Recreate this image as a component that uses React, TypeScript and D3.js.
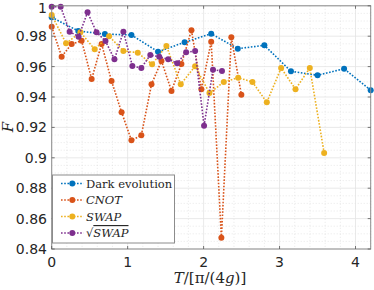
import React from 'react'
import * as d3 from 'd3'

// values
const darkT = [0, 0.35, 0.7, 1.05, 1.4, 1.75, 2.1, 2.45, 2.8, 3.15, 3.5, 3.85, 4.2]
const darkF = [0.9924, 0.9834, 0.9814, 0.9808, 0.9698, 0.976, 0.9816, 0.9718, 0.974, 0.9569, 0.9543, 0.9586, 0.9444]

const cnotT = [0, 0.131, 0.263, 0.394, 0.526, 0.657, 0.788, 0.92, 1.05, 1.18, 1.314, 1.445, 1.577, 1.708, 1.84, 1.971, 2.1, 2.234, 2.365, 2.497]
const cnotF = [0.9862, 0.9665, 0.9749, 0.977, 0.9518, 0.9749, 0.9505, 0.93, 0.9115, 0.9148, 0.9484, 0.9637, 0.944, 0.9617, 0.9839, 0.9451, 0.9764, 0.8474, 0.9793, 0.9415]

const swapT = [0, 0.189, 0.378, 0.566, 0.755, 0.944, 1.133, 1.322, 1.51, 1.699, 1.888, 2.077, 2.266, 2.455, 2.643, 2.832, 3.021, 3.21, 3.398, 3.587]
const swapF = [0.994, 0.9753, 0.9826, 0.9714, 0.98, 0.9703, 0.9691, 0.9615, 0.9736, 0.9484, 0.9602, 0.9426, 0.9499, 0.9527, 0.9499, 0.9365, 0.9591, 0.9451, 0.9591, 0.9032]

const sqrtT = [0, 0.118, 0.236, 0.354, 0.472, 0.59, 0.708, 0.826, 0.944, 1.062, 1.18, 1.298, 1.416, 1.534, 1.652, 1.77, 1.888, 2.006, 2.124, 2.242]
const sqrtF = [0.9994, 0.9994, 0.983, 0.9797, 0.9957, 0.9826, 0.9768, 0.9648, 0.983, 0.9604, 0.9591, 0.9676, 0.9665, 0.9648, 0.9622, 0.9694, 0.9703, 0.9211, 0.958, 0.9571]

const xTicks = [0, 1, 2, 3, 4]
const yTicks = [0.84, 0.86, 0.88, 0.9, 0.92, 0.94, 0.96, 0.98, 1]

const series = [
  { name: 'Dark evolution', t: darkT, f: darkF, color: '#0072BD' },
  { name: 'CNOT', t: cnotT, f: cnotF, color: '#D95319' },
  { name: 'SWAP', t: swapT, f: swapF, color: '#EDB120' },
  { name: 'sqrtSWAP', t: sqrtT, f: sqrtF, color: '#7E2F8E' },
]

const W = 374, H = 290
const left = 51.7, right = 370.7, top = 5.8, bottom = 249

export default function App() {
  const x = d3.scaleLinear().domain([0, 4.2]).range([left, right])
  const y = d3.scaleLinear().domain([0.84, 1]).range([bottom, top])
  const line = d3.line<[number, number]>().x(d => x(d[0])).y(d => y(d[1]))

  const minorX = d3.range(0, 4.21, 0.2).filter(v => Math.abs(v - Math.round(v)) > 0.01)
  const minorY = d3.range(0.84, 1.0001, 0.005).filter(v => Math.abs(v * 50 - Math.round(v * 50)) > 0.01)
  const fmt = (v: number) => String(+v.toFixed(2))

  const lx = 52.5, ly = 175, lw = 122, lh = 68
  const rows = [183.5, 200, 216.5, 233]

  return (
    <svg width={W} height={H} style={{ position: 'absolute', left: 0, top: 0, background: '#fff' }}>
      {/* minor grid */}
      <g stroke="#d9d9d9" strokeWidth={0.6} strokeDasharray="1,2">
        {minorX.map((v, i) => <line key={'mx' + i} x1={x(v)} x2={x(v)} y1={top} y2={bottom} />)}
        {minorY.map((v, i) => <line key={'my' + i} x1={left} x2={right} y1={y(v)} y2={y(v)} />)}
      </g>
      {/* major grid */}
      <g stroke="#e3e3e3" strokeWidth={0.8}>
        {xTicks.map(v => <line key={'gx' + v} x1={x(v)} x2={x(v)} y1={top} y2={bottom} />)}
        {yTicks.map(v => <line key={'gy' + v} x1={left} x2={right} y1={y(v)} y2={y(v)} />)}
      </g>

      {series.map(s => {
        const pts: [number, number][] = s.t.map((t, i) => [t, s.f[i]])
        return (
          <g key={s.name}>
            <path d={line(pts) || ''} fill="none" stroke={s.color} strokeWidth={1.6} strokeDasharray="1.6,1.6" />
            {pts.map((p, i) => <circle key={i} cx={x(p[0])} cy={y(p[1])} r={3} fill={s.color} />)}
          </g>
        )
      })}

      {/* axes box */}
      <rect x={left} y={top} width={right - left} height={bottom - top} fill="none" stroke="#8c8c8c" strokeWidth={1} />
      <g stroke="#555" strokeWidth={0.8}>
        {xTicks.map(v => <line key={'tx' + v} x1={x(v)} x2={x(v)} y1={bottom} y2={bottom - 3} />)}
        {xTicks.map(v => <line key={'tx2' + v} x1={x(v)} x2={x(v)} y1={top} y2={top + 3} />)}
        {yTicks.map(v => <line key={'ty' + v} x1={left} x2={left + 3} y1={y(v)} y2={y(v)} />)}
        {yTicks.map(v => <line key={'ty2' + v} x1={right} x2={right - 3} y1={y(v)} y2={y(v)} />)}
      </g>

      <g fontFamily="DejaVu Sans" fontSize={14} fill="#262626">
        {yTicks.map(v => (
          <text key={'ly' + v} x={47} y={Math.max(y(v), 7.5)} dy="0.36em" textAnchor="end">{fmt(v)}</text>
        ))}
        {xTicks.map(v => (
          <text key={'lx' + v} x={x(v)} y={267} textAnchor="middle">{v}</text>
        ))}
      </g>

      <text x={210} y={283} textAnchor="middle" fontFamily="DejaVu Serif" fontSize={15} fill="#262626">
        <tspan fontStyle="italic">T</tspan>/[π/(4<tspan fontStyle="italic">g</tspan>)]
      </text>
      <text transform="translate(13,127) rotate(-90)" textAnchor="middle" fontFamily="DejaVu Serif" fontStyle="italic" fontSize={15} fill="#262626">F</text>

      {/* legend */}
      <rect x={lx} y={ly} width={lw} height={lh} fill="#fff" stroke="#8c8c8c" strokeWidth={1} />
      {series.map((s, i) => (
        <g key={'lg' + s.name}>
          <line x1={61} x2={83.5} y1={rows[i]} y2={rows[i]} stroke={s.color} strokeWidth={1.6} strokeDasharray="1.6,1.6" />
          <circle cx={72.3} cy={rows[i]} r={3} fill={s.color} />
        </g>
      ))}
      <g fontFamily="DejaVu Serif" fontSize={11.5} fill="#262626">
        <text x={86} y={rows[0]} dy="0.35em">Dark evolution</text>
        <text x={86} y={rows[1]} dy="0.35em" fontStyle="italic">CNOT</text>
        <text x={86} y={rows[2]} dy="0.35em" fontStyle="italic">SWAP</text>
        <text x={86} y={rows[3]} dy="0.35em">√<tspan fontStyle="italic" textDecoration="overline">SWAP</tspan></text>
      </g>
    </svg>
  )
}
